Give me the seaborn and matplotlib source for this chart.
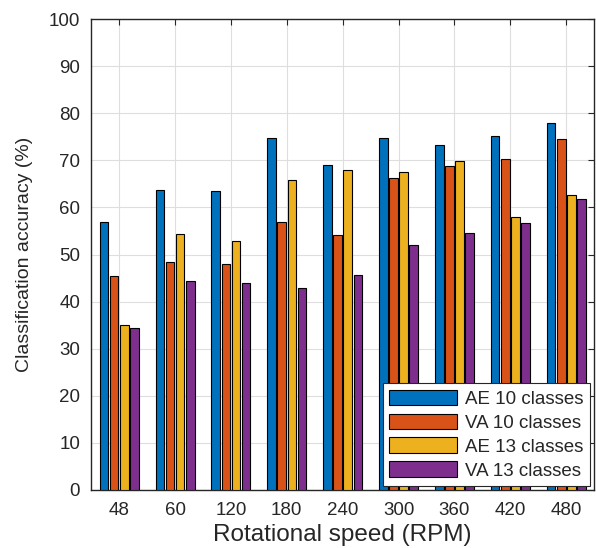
import pandas as pd
import matplotlib.pyplot as plt
import seaborn as sns

# values
speeds = ['48', '60', '120', '180', '240', '300', '360', '420', '480']
series = ['AE 10 classes', 'VA 10 classes', 'AE 13 classes', 'VA 13 classes']
ae10 = [56.9, 63.8, 63.4, 74.7, 69.1, 74.8, 73.2, 75.2, 77.9]
va10 = [45.5, 48.4, 48.0, 56.9, 54.2, 66.2, 68.9, 70.3, 74.6]
ae13 = [35.1, 54.3, 52.8, 65.9, 67.9, 67.6, 69.9, 57.9, 62.7]
va13 = [34.3, 44.3, 43.9, 42.9, 45.7, 52.0, 54.6, 56.6, 61.9]
colors = ['#0072BD', '#D95319', '#EDB120', '#7E2F8E']

rows = []
for name, vals in zip(series, [ae10, va10, ae13, va13]):
    for s, v in zip(speeds, vals):
        rows.append({'speed': s, 'series': name, 'acc': v})
df = pd.DataFrame(rows)

sns.set_style('white')
plt.rcParams['font.family'] = ['Liberation Sans', 'DejaVu Sans']

fig = plt.figure(figsize=(5.96, 5.48), dpi=100)
ax = fig.add_axes([0.153, 0.106, 0.844, 0.859])

sns.barplot(data=df, x='speed', y='acc', hue='series', order=speeds,
            hue_order=series, palette=colors, saturation=1, width=0.725, gap=0.15,
            edgecolor='black', linewidth=0.8, errorbar=None, ax=ax, zorder=3)

ax.set_ylim(0, 100)
ax.set_xlim(-0.5, 8.5)
ax.set_yticks(range(0, 101, 10))
ax.grid(True, color='#dedede', linewidth=0.8, zorder=0)
ax.set_axisbelow(True)
ax.tick_params(direction='in', top=True, right=True, length=4,
               labelsize=13.5, colors='#262626', width=0.8)
ax.tick_params(axis='x', pad=9)
ax.tick_params(axis='y', pad=8)
for sp in ax.spines.values():
    sp.set_color('#262626')
    sp.set_linewidth(1.0)

ax.set_xlabel('Rotational speed (RPM)', fontsize=17.5, color='#262626', labelpad=3)
ax.set_ylabel('Classification accuracy (%)', fontsize=14, color='#262626', labelpad=11)

handles, labels = ax.get_legend_handles_labels()
leg = ax.legend(handles, labels, loc='lower right', fontsize=13.5,
                handlelength=3.6, handleheight=0.9, fancybox=False,
                framealpha=1, edgecolor='#262626', borderaxespad=0.2,
                labelspacing=0.3, handletextpad=0.45, borderpad=0.35)
leg.get_frame().set_linewidth(0.8)

fig.savefig('out.png', dpi=100)
